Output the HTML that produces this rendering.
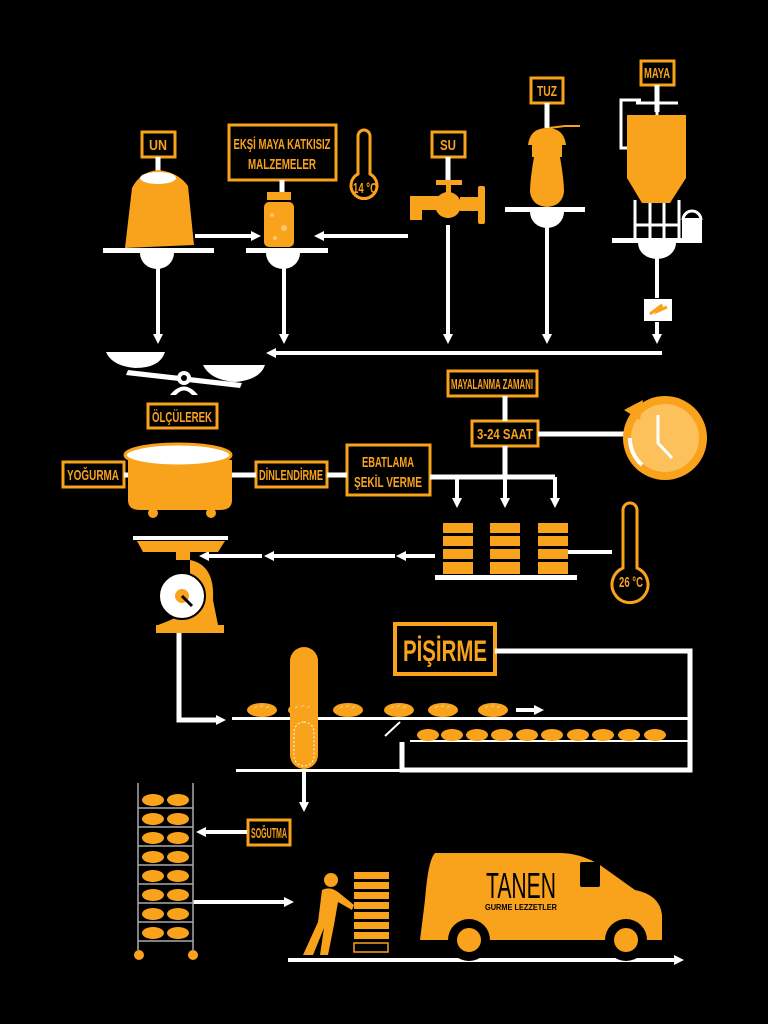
<!DOCTYPE html>
<html><head><meta charset="utf-8"><style>
html,body{margin:0;padding:0;background:#000;}
svg{display:block}
text{font-family:"Liberation Sans",sans-serif;font-weight:bold;fill:#f9a21b;}
</style></head><body>
<svg width="768" height="1024" viewBox="0 0 768 1024" xmlns="http://www.w3.org/2000/svg">
<defs>
<marker id="ad" markerWidth="10" markerHeight="10" refX="4" refY="5" orient="auto" markerUnits="userSpaceOnUse"><path d="M0,0 L10,5 L0,10 z" fill="#fff"/></marker>
<g id="bread"><ellipse cx="0" cy="0" rx="15" ry="7" fill="#f9a21b"/><path d="M-8,-2 l3,-2 M-2,-3 l3,-2 M4,-2 l3,-2" stroke="#fcc96e" stroke-width="1.2"/></g>
<g id="sb"><ellipse cx="0" cy="0" rx="11" ry="6" fill="#f9a21b"/></g>
</defs>
<rect width="768" height="1024" fill="#000"/>
<g fill="none" stroke="#f9a21b" stroke-width="3">
<rect x="142" y="132" width="33" height="25"/>
<rect x="229" y="125" width="107" height="55"/>
<rect x="432" y="132" width="33" height="25"/>
<rect x="531" y="78" width="32" height="25"/>
<rect x="641" y="61" width="33" height="24"/>
<rect x="148" y="404" width="69" height="24"/>
<rect x="63" y="462" width="61" height="25"/>
<rect x="256" y="462" width="71" height="25"/>
<rect x="347" y="445" width="83" height="50"/>
<rect x="448" y="371" width="89" height="25"/>
<rect x="472" y="421" width="66" height="25"/>
<rect x="395" y="624" width="100" height="50" stroke-width="4"/>
<rect x="248" y="820" width="42" height="25"/>
</g>
<g font-size="15" text-anchor="middle">
<text x="158" y="150" textLength="18" lengthAdjust="spacingAndGlyphs">UN</text>
<text x="282" y="149" textLength="97" lengthAdjust="spacingAndGlyphs">EKŞİ MAYA KATKISIZ</text>
<text x="282" y="169" textLength="68" lengthAdjust="spacingAndGlyphs">MALZEMELER</text>
<text x="448" y="150" textLength="16" lengthAdjust="spacingAndGlyphs">SU</text>
<text x="547" y="96" textLength="20" lengthAdjust="spacingAndGlyphs">TUZ</text>
<text x="657" y="78" textLength="26" lengthAdjust="spacingAndGlyphs">MAYA</text>
<text x="182" y="422" textLength="60" lengthAdjust="spacingAndGlyphs">ÖLÇÜLEREK</text>
<text x="93" y="480" textLength="52" lengthAdjust="spacingAndGlyphs">YOĞURMA</text>
<text x="291" y="480" textLength="64" lengthAdjust="spacingAndGlyphs">DİNLENDİRME</text>
<text x="388" y="467" textLength="52" lengthAdjust="spacingAndGlyphs">EBATLAMA</text>
<text x="388" y="487" textLength="68" lengthAdjust="spacingAndGlyphs">ŞEKİL VERME</text>
<text x="492" y="389" textLength="82" lengthAdjust="spacingAndGlyphs">MAYALANMA ZAMANI</text>
<text x="505" y="439" textLength="56" lengthAdjust="spacingAndGlyphs">3-24 SAAT</text>
<text x="269" y="838" textLength="36" lengthAdjust="spacingAndGlyphs">SOĞUTMA</text>
<text x="445" y="661" font-size="30" textLength="84" lengthAdjust="spacingAndGlyphs">PİŞİRME</text>
<text x="365" y="193" textLength="24" lengthAdjust="spacingAndGlyphs">14 °C</text>
<text x="631" y="587" textLength="24" lengthAdjust="spacingAndGlyphs">26 °C</text>
</g>
<g stroke="#fff" stroke-width="5" fill="none">
<line x1="158" y1="157" x2="158" y2="172"/><line x1="282" y1="180" x2="282" y2="192"/>
<line x1="448" y1="157" x2="448" y2="182"/><line x1="547" y1="103" x2="547" y2="128"/>
<line x1="657" y1="85" x2="657" y2="112"/>
</g>
<path d="M132,188 Q140,172 158,170 Q178,172 188,186 L194,245 L125,248 Z" fill="#f9a21b"/>
<ellipse cx="158" cy="178" rx="18" ry="6" fill="#fff"/>
<rect x="267" y="192" width="24" height="8" fill="#f9a21b"/>
<rect x="264" y="202" width="30" height="45" rx="5" fill="#f9a21b"/>
<circle cx="272" cy="215" r="2" fill="#fcc96e"/><circle cx="284" cy="228" r="3" fill="#fcc96e"/><circle cx="275" cy="238" r="2" fill="#fcc96e"/>
<path d="M358,136 a6,6 0 0 1 12,0 v38 a13,13 0 1 1 -12,0 z" fill="none" stroke="#f9a21b" stroke-width="3"/>
<g fill="#f9a21b">
<rect x="436" y="180" width="26" height="5"/><rect x="446" y="184" width="5" height="10"/>
<circle cx="448" cy="205" r="13"/><rect x="410" y="196" width="38" height="14"/><rect x="410" y="206" width="12" height="14"/>
<rect x="460" y="197" width="22" height="14"/><rect x="478" y="186" width="7" height="38" rx="2"/>
</g>
<g fill="#f9a21b">
<path d="M528,145 Q530,128 547,128 Q564,128 566,145 Z"/>
<rect x="532" y="145" width="30" height="12"/>
<path d="M534,157 Q530,180 530,192 Q532,206 547,207 Q562,206 564,192 Q564,180 560,157 Z"/>
</g>
<path d="M549,128 L565,126 L580,126" stroke="#f9a21b" stroke-width="2" fill="none"/>
<path d="M627,115 L686,115 L686,178 L670,203 L642,203 L627,178 Z" fill="#f9a21b"/>
<g stroke="#fff" stroke-width="3" fill="none">
<path d="M636,103 L678,103 M657,103 V115"/>
<path d="M641,100 H621 V148 H627"/>
<path d="M635,200 V238 M650,203 V238 M664,203 V238 M679,200 V238 M635,225 H679"/>
<path d="M683,220 a9,9 0 0 1 18,0"/>
</g>
<rect x="682" y="218" width="20" height="20" fill="#fff"/>
<g fill="#fff">
<rect x="103" y="248" width="111" height="5"/><path d="M140,253 a17,16 0 0 0 34,0 z"/>
<rect x="246" y="248" width="82" height="5"/><path d="M266,253 a17,16 0 0 0 34,0 z"/>
<rect x="505" y="207" width="80" height="5"/><path d="M530,212 a17,16 0 0 0 34,0 z"/>
<rect x="612" y="238" width="90" height="5"/><path d="M638,243 a19,16 0 0 0 38,0 z"/>
</g>
<g stroke="#fff" stroke-width="4" marker-end="url(#ad)">
<line x1="158" y1="268" x2="158" y2="338"/>
<line x1="284" y1="268" x2="284" y2="338"/>
<line x1="448" y1="225" x2="448" y2="338"/>
<line x1="547" y1="227" x2="547" y2="338"/>
<line x1="657" y1="322" x2="657" y2="338"/>
<line x1="195" y1="236" x2="255" y2="236"/>
<line x1="408" y1="236" x2="320" y2="236"/>
<line x1="662" y1="353" x2="272" y2="353"/>
</g>
<line x1="657" y1="258" x2="657" y2="298" stroke="#fff" stroke-width="4"/>
<rect x="644" y="299" width="28" height="22" fill="#fff"/>
<path d="M650,314 L662,305 L658,311 L667,307" stroke="#f9a21b" stroke-width="3" fill="none"/>
<g fill="#fff">
<path d="M106,352 H165 Q160,368 135,368 Q112,366 106,352 Z"/>
<path d="M203,365 H265 Q260,380 235,382 Q210,380 203,365 Z"/>
<path d="M128,370 L242,383 L240,388 L126,375 Z"/>
<circle cx="184" cy="378" r="7"/>
<path d="M170,395 Q184,378 198,395 L192,395 Q184,386 176,395 Z"/>
</g>
<circle cx="184" cy="378" r="3" fill="#000"/>
<path d="M128,460 H232 V500 Q232,510 220,510 H140 Q128,510 128,500 Z" fill="#f9a21b"/>
<ellipse cx="178" cy="455" rx="53" ry="11" fill="#fff" stroke="#f9a21b" stroke-width="3"/>
<circle cx="153" cy="513" r="5" fill="#f9a21b"/><circle cx="211" cy="513" r="5" fill="#f9a21b"/>
<g stroke="#fff" stroke-width="5">
<line x1="124" y1="475" x2="128" y2="475"/><line x1="232" y1="475" x2="256" y2="475"/>
<line x1="327" y1="475" x2="347" y2="475"/>
<line x1="430" y1="477" x2="555" y2="477"/>
<line x1="505" y1="396" x2="505" y2="421"/>
<line x1="505" y1="446" x2="505" y2="477"/>
<line x1="538" y1="434" x2="625" y2="434"/>
</g>
<g stroke="#fff" stroke-width="4" marker-end="url(#ad)">
<line x1="457" y1="477" x2="457" y2="502"/>
<line x1="505" y1="477" x2="505" y2="502"/>
<line x1="555" y1="477" x2="555" y2="502"/>
<line x1="435" y1="556" x2="402" y2="556"/>
<line x1="395" y1="556" x2="270" y2="556"/>
<line x1="262" y1="556" x2="205" y2="556"/>
</g>
<circle cx="665" cy="438" r="42" fill="#f9a21b"/>
<circle cx="665" cy="438" r="34" fill="#fcc15a"/>
<path d="M630,438 a35,35 0 0 0 12,27" stroke="#fff" stroke-width="4" fill="none"/>
<path d="M624,410 L643,400 L640,420 Z" fill="#f9a21b"/>
<path d="M658,415 V443 L672,458" stroke="#fff" stroke-width="3" fill="none"/>
<g fill="#f9a21b">
<rect x="443" y="523" width="30" height="10"/><rect x="443" y="536" width="30" height="10"/><rect x="443" y="549" width="30" height="10"/><rect x="443" y="562" width="30" height="12"/>
<rect x="490" y="523" width="30" height="10"/><rect x="490" y="536" width="30" height="10"/><rect x="490" y="549" width="30" height="10"/><rect x="490" y="562" width="30" height="12"/>
<rect x="538" y="523" width="30" height="10"/><rect x="538" y="536" width="30" height="10"/><rect x="538" y="549" width="30" height="10"/><rect x="538" y="562" width="30" height="12"/>
</g>
<rect x="435" y="575" width="142" height="5" fill="#fff"/>
<line x1="568" y1="552" x2="612" y2="552" stroke="#fff" stroke-width="4"/>
<path d="M623,510 a7,7 0 0 1 14,0 v58 a18,18 0 1 1 -14,0 z" fill="none" stroke="#f9a21b" stroke-width="3"/>
<rect x="133" y="536" width="95" height="4" fill="#fff"/>
<path d="M137,541 H225 L218,552 H143 Z" fill="#f9a21b"/><rect x="176" y="552" width="14" height="8" fill="#f9a21b"/>
<path d="M190,560 Q215,565 213,600 L218,625 H158 Q185,615 190,608 Z" fill="#f9a21b"/>
<rect x="156" y="625" width="68" height="8" fill="#f9a21b"/>
<circle cx="182" cy="596" r="23" fill="#fff" stroke="#000" stroke-width="2"/>
<circle cx="182" cy="596" r="7" fill="#f9a21b"/>
<line x1="182" y1="596" x2="192" y2="606" stroke="#000" stroke-width="3"/>
<path d="M179,633 V720 H220" stroke="#fff" stroke-width="5" fill="none" marker-end="url(#ad)"/>
<path d="M495,651 H690 V770 H402 V742" stroke="#fff" stroke-width="5" fill="none"/>
<rect x="232" y="717" width="458" height="3" fill="#fff"/>
<rect x="410" y="740" width="280" height="2" fill="#fff"/>
<rect x="236" y="769" width="166" height="3" fill="#fff"/>
<line x1="385" y1="736" x2="400" y2="722" stroke="#fff" stroke-width="2"/>
<rect x="290" y="647" width="28" height="122" rx="14" fill="#f9a21b"/>
<rect x="294" y="722" width="20" height="44" rx="10" fill="#f9a21b" stroke="#fff" stroke-dasharray="2,2" stroke-width="1"/>
<use href="#bread" x="262" y="710"/><use href="#bread" x="303" y="710"/><use href="#bread" x="348" y="710"/><use href="#bread" x="399" y="710"/><use href="#bread" x="443" y="710"/><use href="#bread" x="493" y="710"/>
<line x1="516" y1="710" x2="538" y2="710" stroke="#fff" stroke-width="4" marker-end="url(#ad)"/>
<g><use href="#sb" x="428" y="735"/><use href="#sb" x="452" y="735"/><use href="#sb" x="477" y="735"/><use href="#sb" x="502" y="735"/><use href="#sb" x="527" y="735"/><use href="#sb" x="552" y="735"/><use href="#sb" x="578" y="735"/><use href="#sb" x="603" y="735"/><use href="#sb" x="629" y="735"/><use href="#sb" x="655" y="735"/></g>
<g stroke="#fff" stroke-width="4" marker-end="url(#ad)">
<line x1="304" y1="772" x2="304" y2="806"/>
<line x1="247" y1="832" x2="202" y2="832"/>
<line x1="193" y1="902" x2="288" y2="902"/>
<line x1="288" y1="960" x2="678" y2="960"/>
</g>
<g stroke="#aaa" stroke-width="1.5">
<line x1="138" y1="783" x2="138" y2="950"/><line x1="193" y1="783" x2="193" y2="950"/>
<line x1="138" y1="808" x2="193" y2="808"/><line x1="138" y1="827" x2="193" y2="827"/><line x1="138" y1="846" x2="193" y2="846"/><line x1="138" y1="865" x2="193" y2="865"/><line x1="138" y1="884" x2="193" y2="884"/><line x1="138" y1="903" x2="193" y2="903"/><line x1="138" y1="922" x2="193" y2="922"/><line x1="138" y1="941" x2="193" y2="941"/>
</g>
<g>
<use href="#sb" x="153" y="800"/><use href="#sb" x="178" y="800"/><use href="#sb" x="153" y="819"/><use href="#sb" x="178" y="819"/><use href="#sb" x="153" y="838"/><use href="#sb" x="178" y="838"/><use href="#sb" x="153" y="857"/><use href="#sb" x="178" y="857"/><use href="#sb" x="153" y="876"/><use href="#sb" x="178" y="876"/><use href="#sb" x="153" y="895"/><use href="#sb" x="178" y="895"/><use href="#sb" x="153" y="914"/><use href="#sb" x="178" y="914"/><use href="#sb" x="153" y="933"/><use href="#sb" x="178" y="933"/>
</g>
<circle cx="139" cy="955" r="5" fill="#f9a21b"/><circle cx="193" cy="955" r="5" fill="#f9a21b"/>
<g fill="#f9a21b">
<circle cx="331" cy="880" r="7"/>
<path d="M322,890 Q330,886 338,892 L354,905 L352,910 L338,902 L334,925 L328,955 L320,955 L324,928 L313,955 L303,955 L318,922 Z"/>
</g>
<g fill="#f9a21b">
<rect x="354" y="872" width="35" height="7"/><rect x="354" y="882" width="35" height="7"/><rect x="354" y="892" width="35" height="7"/><rect x="354" y="902" width="35" height="7"/><rect x="354" y="912" width="35" height="7"/><rect x="354" y="922" width="35" height="7"/><rect x="354" y="932" width="35" height="7"/>
</g>
<rect x="354" y="943" width="34" height="9" fill="none" stroke="#f9a21b" stroke-width="1.5"/>
<path d="M435,853 H560 Q580,853 600,865 L635,890 Q660,895 662,915 V940 H420 L425,900 Q428,860 435,853 Z" fill="#f9a21b"/>
<rect x="580" y="862" width="20" height="25" rx="2" fill="#000"/>
<circle cx="469" cy="940" r="21" fill="#000"/><circle cx="469" cy="940" r="12" fill="#f9a21b"/>
<circle cx="626" cy="940" r="21" fill="#000"/><circle cx="626" cy="940" r="12" fill="#f9a21b"/>
<text x="521" y="898" text-anchor="middle" font-size="36" textLength="70" lengthAdjust="spacingAndGlyphs" style="fill:#000;font-weight:normal">TANEN</text>
<text x="521" y="910" text-anchor="middle" font-size="8" textLength="72" lengthAdjust="spacingAndGlyphs" style="fill:#000">GURME LEZZETLER</text>
</svg>
</body></html>
